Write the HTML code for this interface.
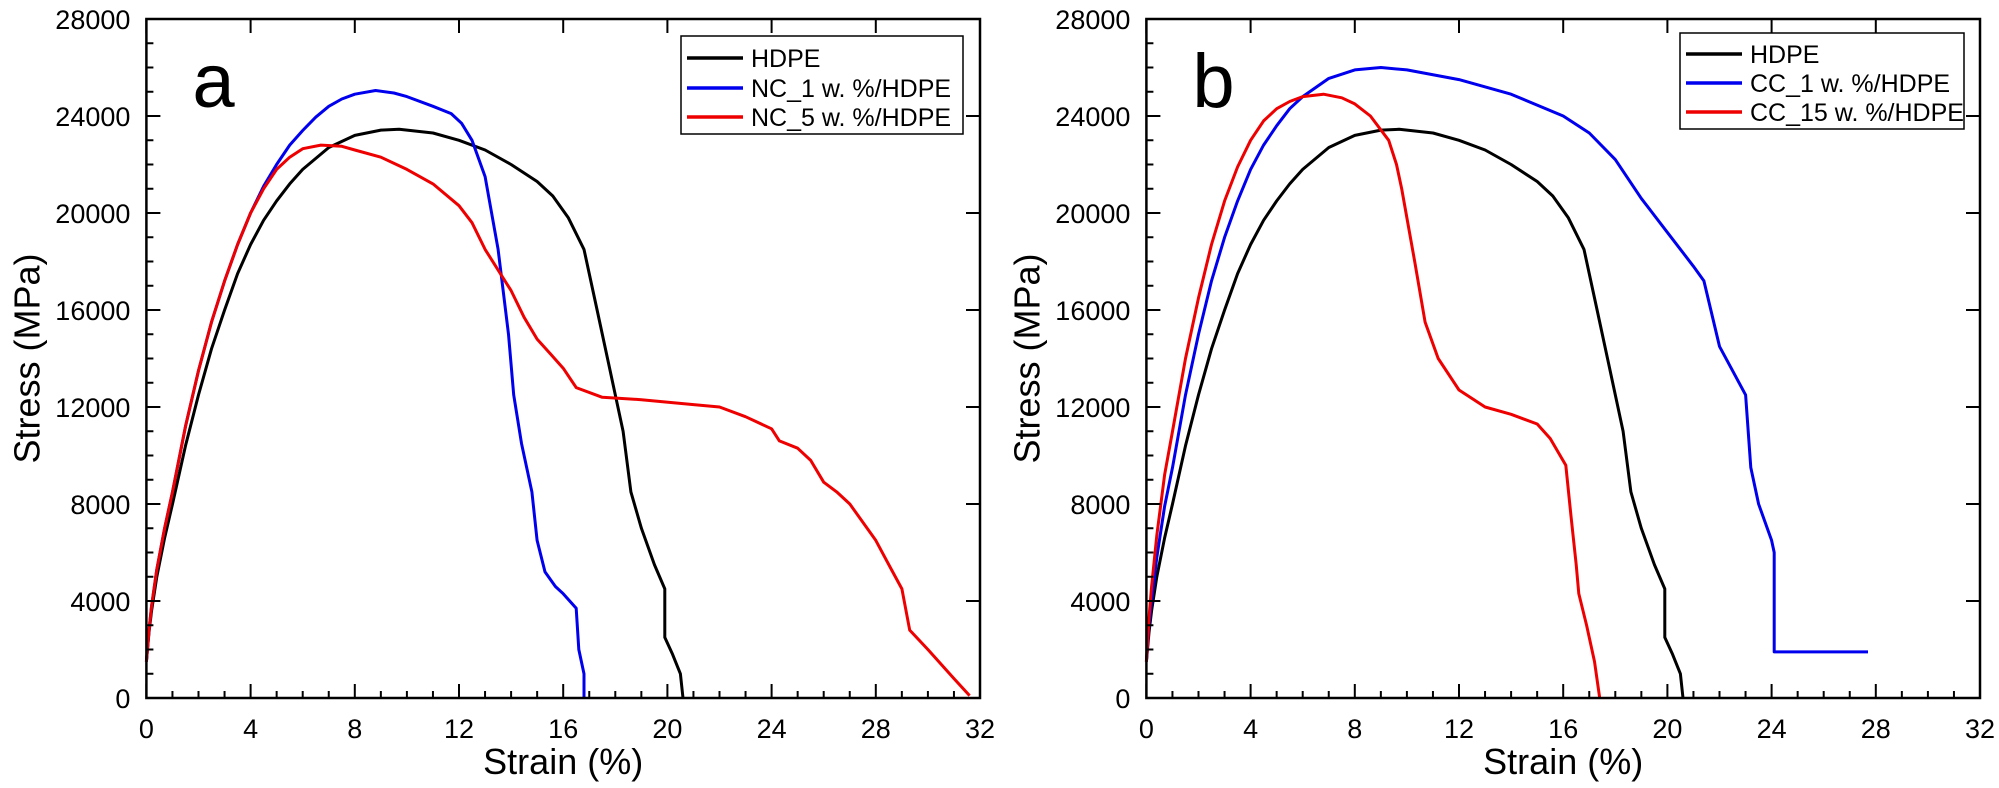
<!DOCTYPE html>
<html><head><meta charset="utf-8">
<style>
html,body{margin:0;padding:0;background:#fff;}
svg{display:block;font-family:"Liberation Sans",Arial,sans-serif;}
</style></head>
<body>
<svg id="s" width="1999" height="788" viewBox="0 0 1999 788" xmlns="http://www.w3.org/2000/svg"></svg>
<script>
const S=document.getElementById('s');
let h='';
const HDPE=[[0,1500],[0.1,2700],[0.2,3600],[0.4,5000],[0.7,6600],[1,8000],[1.5,10400],[2,12500],[2.5,14400],[3,16000],[3.5,17500],[4,18700],[4.5,19700],[5,20500],[5.5,21200],[6,21800],[7,22700],[8,23200],[9,23420],[9.7,23450],[11,23300],[12,23000],[13,22600],[14,22000],[15,21300],[15.6,20700],[16.2,19800],[16.8,18500],[17.3,16000],[17.8,13500],[18.3,11000],[18.6,8500],[19,7000],[19.5,5500],[19.9,4500],[19.9,2500],[20.2,1800],[20.5,1000],[20.6,0]];
const NC1=[[0,1500],[0.1,2800],[0.2,3800],[0.4,5300],[0.7,7000],[1,8500],[1.5,11200],[2,13500],[2.5,15500],[3,17200],[3.5,18700],[4,20000],[4.5,21100],[5,22000],[5.5,22800],[6,23400],[6.5,23950],[7,24400],[7.5,24700],[8,24900],[8.8,25050],[9.5,24950],[10,24800],[11,24400],[11.7,24100],[12.1,23700],[12.5,23000],[13,21500],[13.5,18500],[13.9,15000],[14.1,12500],[14.4,10500],[14.8,8500],[15,6500],[15.3,5200],[15.7,4600],[16,4300],[16.5,3700],[16.6,2000],[16.8,1000],[16.8,0]];
const NC5=[[0,1500],[0.1,2800],[0.2,3800],[0.4,5300],[0.7,7000],[1,8500],[1.5,11200],[2,13500],[2.5,15500],[3,17200],[3.5,18700],[4,20000],[4.5,21000],[5,21800],[5.5,22300],[6,22650],[6.7,22800],[7.5,22750],[8,22600],[9,22300],[10,21800],[11,21200],[12,20300],[12.5,19600],[13,18500],[14,16800],[14.5,15700],[15,14800],[15.5,14200],[16,13600],[16.5,12800],[17.5,12400],[19,12300],[21,12100],[22,12000],[23,11600],[24,11100],[24.3,10600],[25,10300],[25.5,9800],[26,8900],[26.5,8500],[27,8000],[28,6500],[28.6,5300],[29,4500],[29.3,2800],[30,2000],[31,800],[31.6,100]];
const CC1=[[0,1500],[0.1,3000],[0.2,4000],[0.4,5800],[0.7,7900],[1,9500],[1.5,12500],[2,15000],[2.5,17200],[3,19000],[3.5,20500],[4,21800],[4.5,22800],[5,23600],[5.5,24300],[6,24800],[7,25550],[8,25900],[9,26000],[10,25900],[12,25500],[14,24900],[16,24000],[17,23300],[18,22200],[19,20600],[20,19200],[21,17800],[21.4,17200],[22,14500],[22.5,13500],[23,12500],[23.2,9500],[23.5,8000],[24,6500],[24.1,6000],[24.1,1900],[27.7,1900]];
const CC15=[[0,1500],[0.1,3300],[0.2,4600],[0.4,6700],[0.7,9200],[1,11000],[1.5,14000],[2,16500],[2.5,18700],[3,20500],[3.5,21900],[4,23000],[4.5,23800],[5,24300],[5.5,24600],[6,24800],[6.8,24900],[7.5,24750],[8,24500],[8.6,24000],[9.3,23000],[9.6,22000],[9.8,21000],[10.3,18000],[10.7,15500],[11.2,14000],[12,12700],[13,12000],[14,11700],[15,11300],[15.5,10700],[16.1,9600],[16.3,7500],[16.5,5500],[16.6,4300],[16.9,3000],[17.2,1500],[17.4,0]];
function panel(x0,x1,letter,series,leg,lx0,lx1,ly0,rows){
 const y0=698,y1=19;
 const X=v=>x0+(x1-x0)*v/32, Y=v=>y0+(y1-y0)*v/28000;
 series.forEach(([d,c])=>{h+=`<polyline fill="none" stroke="${c}" stroke-width="3" stroke-linejoin="round" points="${d.map(p=>X(p[0]).toFixed(1)+','+Y(p[1]).toFixed(1)).join(' ')}"/>`;});
 h+=`<rect x="${x0}" y="${y1}" width="${x1-x0}" height="${y0-y1}" fill="none" stroke="#000" stroke-width="2.5"/>`;
 for(let i=0;i<=32;i++){const x=X(i),L=i%4==0?14:7;h+=`<line x1="${x}" y1="${y0}" x2="${x}" y2="${y0-L}" stroke="#000" stroke-width="2"/>`;
  if(i%4==0){h+=`<line x1="${x}" y1="${y1}" x2="${x}" y2="${y1+14}" stroke="#000" stroke-width="2"/>`;
  h+=`<text x="${x}" y="738" font-size="27" text-anchor="middle">${i}</text>`;}}
 for(let j=0;j<=28;j++){const y=Y(j*1000),L=j%4==0?14:7;h+=`<line x1="${x0}" y1="${y}" x2="${x0+L}" y2="${y}" stroke="#000" stroke-width="2"/>`;
  if(j%4==0){h+=`<line x1="${x1}" y1="${y}" x2="${x1-14}" y2="${y}" stroke="#000" stroke-width="2"/>`;
  h+=`<text x="${x0-16}" y="${y+10}" font-size="27" text-anchor="end">${j*1000}</text>`;}}
 h+=`<text x="${(x0+x1)/2}" y="774" font-size="36" text-anchor="middle">Strain (%)</text>`;
 h+=`<text transform="translate(${x0-107},${(y0+y1)/2}) rotate(-90)" font-size="36" text-anchor="middle">Stress (MPa)</text>`;
 h+=`<text x="${x0+46}" y="107" font-size="76">${letter}</text>`;
 h+=`<rect x="${lx0}" y="${ly0}" width="${lx1-lx0}" height="${rows[2]+17-ly0}" fill="#fff" stroke="#000" stroke-width="1.5"/>`;
 leg.forEach(([t,c],i)=>{const y=rows[i];h+=`<line x1="${lx0+6}" y1="${y}" x2="${lx0+62}" y2="${y}" stroke="${c}" stroke-width="3.5"/>`;
  h+=`<text x="${lx0+70}" y="${y+9}" font-size="25">${t}</text>`;});
}
panel(146.4,980,'a',[[HDPE,'#000'],[NC1,'#0000ee'],[NC5,'#ee0000']],[['HDPE','#000'],['NC_1 w. %/HDPE','#0000ee'],['NC_5 w. %/HDPE','#ee0000']],681,963,36,[58,88,117]);
panel(1146.4,1980,'b',[[HDPE,'#000'],[CC1,'#0000ee'],[CC15,'#ee0000']],[['HDPE','#000'],['CC_1 w. %/HDPE','#0000ee'],['CC_15 w. %/HDPE','#ee0000']],1680,1964,33,[54,83,112]);
S.innerHTML=h;
</script>
</body></html>
